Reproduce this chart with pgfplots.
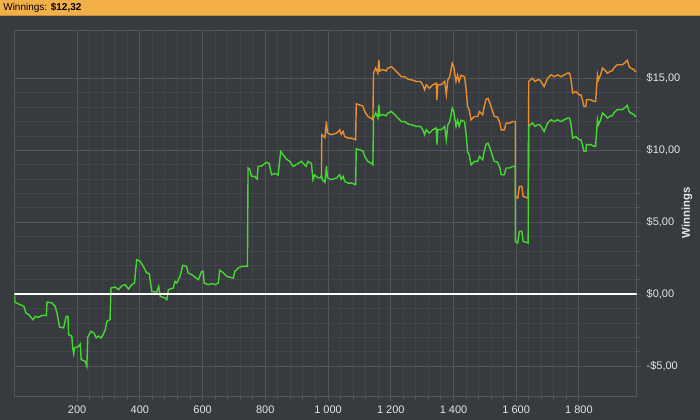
\documentclass[border=0pt]{standalone}
\usepackage{pgfplots}
\pgfplotsset{compat=1.18}
\usepackage{fontspec}
\setmainfont{Liberation Sans}
\definecolor{bgcol}{RGB}{55,58,62}
\definecolor{minorgrid}{RGB}{66,69,73}
\definecolor{majorgrid}{RGB}{82,85,89}
\definecolor{labcol}{RGB}{228,228,228}
\definecolor{barcol}{RGB}{244,176,72}
\definecolor{barline}{RGB}{196,140,60}
\definecolor{greenline}{RGB}{70,216,50}
\definecolor{orangeline}{RGB}{232,142,46}
\begin{document}
\begin{tikzpicture}
\fill[bgcol] (0,0) rectangle (525pt,315pt);
\fill[barcol] (0,303.5pt) rectangle (525pt,315pt);
\draw[barline,line width=0.6pt] (0,303.5pt) -- (525pt,303.5pt);
\node[anchor=west,inner sep=0pt,font=\fontsize{7.5}{8}\selectfont] at (2pt,309.2pt) {Winnings: \textbf{\$12,32}};
\begin{axis}[
  at={(10.5pt,17.25pt)}, anchor=south west,
  scale only axis, width=467.25pt, height=274.5pt,
  xmin=0, xmax=1984, ymin=-7.1, ymax=18.3,
  xtick={200,400,600,800,1000,1200,1400,1600,1800},
  xticklabels={200,400,600,800,1 000,1 200,1 400,1 600,1 800},
  ytick={-5,0,5,10,15},
  yticklabels={{-\$5,00},{\$0,00},{\$5,00},{\$10,00},{\$15,00}},
  minor x tick num=4, minor y tick num=4,
  xtick pos=bottom, ytick pos=right, yticklabel pos=right,
  tick align=outside, major tick length=3pt, minor tick length=2.5pt,
  grid=both,
  major grid style={color=majorgrid, line width=0.75pt},
  minor grid style={color=minorgrid, line width=0.75pt},
  every tick/.style={color=majorgrid, line width=0.75pt},
  axis line style={color=majorgrid, line width=0.8pt},
  /pgf/number format/assume math mode=true,
  tick label style={font=\fontsize{8.25}{9}\selectfont, color=labcol},
  xticklabel style={yshift=-0.5pt},
  yticklabel style={xshift=1pt},
  axis background/.style={fill=bgcol},
]
\addplot[orangeline, line width=1.05pt] coordinates {
(979,8.3) (980,11.09) (990,10.9) (995,12.02) (998,11.22) (1010,11.09) (1027,11.2) (1037,11.43) (1042,11.12) (1048,11.32) (1053,10.97) (1064,10.85) (1075,10.85) (1088,10.74)
(1090,13.24) (1106,13.12) (1111,13.09) (1117,12.7) (1127,12.36) (1138,12.22) (1143,12.12)
(1145,15.37) (1152,15.72) (1159,15.37) (1162,16.29) (1165,15.52) (1175,15.62) (1185,15.52) (1191,15.72) (1202,15.82) (1212,15.62) (1223,15.37) (1234,15.12) (1245,15.12) (1255,14.95) (1270,14.88) (1281,14.79) (1295,14.79) (1302,14.56) (1308,14.21) (1313,14.56) (1323,14.32) (1334,14.56) (1345,14.67) (1347,13.52) (1350,14.56) (1361,14.56) (1372,14.79) (1377,13.86) (1382,14.9) (1388,15.12) (1396,16.06) (1401,15.82) (1408,14.79) (1413,15.22) (1418,14.79) (1424,15.22) (1435,15.12) (1440,14.32) (1445,13.05) (1450,12.82) (1456,12.12) (1467,12.36) (1477,12.36) (1483,12.7) (1493,12.47) (1498,13.05) (1504,13.56) (1510,13.62) (1520,13.05) (1530,12.36) (1540,12.32) (1548,11.9) (1552,11.43) (1562,11.43) (1568,11.9) (1579,11.9) (1589,12.01) (1597,12.01)
(1597,6.8) (1605,6.69) (1610,7.5) (1618,7.5) (1622,6.8) (1638,6.69)
(1640,14.79) (1645,14.9) (1652,15.02) (1660,14.79) (1668,14.9) (1674,14.9) (1679,14.79) (1689,14.44) (1700,15.02) (1711,15.25) (1721,15.12) (1732,15.25) (1743,15.12) (1753,15.25) (1764,15.37) (1770,15.37) (1774,15.02) (1780,13.98) (1790,14.09) (1801,13.86) (1806,13.86) (1811,13.52) (1816,13.05) (1822,13.05) (1824,13.52) (1838,13.52) (1848,13.4) (1853,13.4)
(1859,15.25) (1862,14.9) (1869,15.25) (1875,15.72) (1885,15.52) (1891,15.37) (1901,15.52) (1906,15.52) (1911,15.72) (1922,15.95) (1938,15.95) (1948,16.12) (1954,16.25) (1960,15.82) (1965,15.72) (1975,15.62) (1981,15.44)
};
\addplot[greenline, line width=1.05pt] coordinates {
(0,0) (2,-0.55) (14,-0.67) (30,-0.83) (37,-1.3) (46,-1.41) (59,-1.76) (67,-1.53) (75,-1.6) (85,-1.5) (95,-1.45) (102,-1.48) (104,-0.53) (120,-0.6) (130,-0.83) (136,-1.3) (144,-2.27) (157,-2.33) (165,-1.53) (171,-1.53) (173,-2.8) (183,-2.9) (186,-3.72) (189,-4.12) (192,-3.72) (205,-3.61) (210,-3.45) (213,-4.53) (226,-4.65) (231,-5.0) (234,-2.96) (244,-2.57) (254,-2.7) (261,-3.03) (268,-2.9) (276,-3.03) (283,-2.8) (290,-2.45) (295,-1.87) (305,-1.76)
(308,0.44) (321,0.51) (332,0.33) (343,0.6) (353,0.67) (364,0.37) (374,0.67) (383,0.79) (390,2.41) (401,2.3) (411,1.94) (422,1.49) (430,1.45) (438,0.21) (454,0.15) (460,0.56) (465,-0.14) (480,-0.25) (486,-0.37) (491,0.33) (507,0.44) (512,0.9) (518,0.79) (528,1.25) (537,2.02) (549,1.94) (554,1.48) (563,1.4) (573,1.25) (587,1.02) (597,1.6) (602,1.6) (605,0.79) (618,0.67) (630,0.75) (640,0.67) (650,0.79) (655,1.67) (666,1.5) (677,1.25) (698,1.13) (703,1.6) (714,1.83) (724,1.94) (743,1.94)
(745,8.78) (750,8.7) (756,8.2) (766,8.2) (774,8.01) (777,8.9) (786,8.9) (793,9.0) (804,9.17) (812,9.1) (820,8.31) (830,8.4) (841,8.3) (849,9.93) (857,9.7) (867,9.4) (878,9.24) (889,8.89) (905,9.1) (915,9.24) (930,8.89) (936,9.24) (947,9.1) (952,7.97) (957,8.3) (968,8.1) (976,8.1) (979,8.3) (982,7.97) (990,7.78) (995,8.9) (998,8.1) (1010,7.97) (1027,8.08) (1037,8.31) (1042,8.0) (1048,8.2) (1053,7.85) (1064,7.73) (1075,7.73) (1088,7.62)
(1090,10.12) (1106,10.0) (1111,9.97) (1117,9.58) (1127,9.24) (1138,9.1) (1143,9.0)
(1145,12.25) (1152,12.6) (1159,12.25) (1162,13.17) (1165,12.4) (1175,12.5) (1185,12.4) (1191,12.6) (1202,12.7) (1212,12.5) (1223,12.25) (1234,12.0) (1245,12.0) (1255,11.83) (1270,11.76) (1281,11.67) (1295,11.67) (1302,11.44) (1308,11.09) (1313,11.44) (1323,11.2) (1334,11.44) (1345,11.55) (1347,10.4) (1350,11.44) (1361,11.44) (1372,11.67) (1377,10.74) (1382,11.78) (1388,12.0) (1396,12.94) (1401,12.7) (1408,11.67) (1413,12.1) (1418,11.67) (1424,12.1) (1435,12.0) (1440,11.2) (1445,9.93) (1450,9.7) (1456,9.0) (1467,9.24) (1477,9.24) (1483,9.58) (1493,9.35) (1498,9.93) (1504,10.44) (1510,10.5) (1520,9.93) (1530,9.24) (1540,9.2) (1548,8.78) (1552,8.31) (1562,8.31) (1568,8.78) (1579,8.78) (1589,8.89) (1597,8.89)
(1597,3.68) (1605,3.57) (1610,4.38) (1618,4.38) (1622,3.68) (1638,3.57)
(1640,11.67) (1645,11.78) (1652,11.9) (1660,11.67) (1668,11.78) (1674,11.78) (1679,11.67) (1689,11.32) (1700,11.9) (1711,12.13) (1721,12.0) (1732,12.13) (1743,12.0) (1753,12.13) (1764,12.25) (1770,12.25) (1774,11.9) (1780,10.86) (1790,10.97) (1801,10.74) (1806,10.74) (1811,10.4) (1816,9.93) (1822,9.93) (1824,10.4) (1838,10.4) (1848,10.28) (1853,10.28)
(1859,12.13) (1862,11.78) (1869,12.13) (1875,12.6) (1885,12.4) (1891,12.25) (1901,12.4) (1906,12.4) (1911,12.6) (1922,12.83) (1938,12.83) (1948,13.0) (1954,13.13) (1960,12.7) (1965,12.6) (1975,12.5) (1981,12.32)
};
\addplot[white, line width=1.5pt] coordinates {(0,0) (1984,0)};
\end{axis}
\node[rotate=90, font=\fontsize{8.5}{9}\selectfont\bfseries, color=labcol] at (515.5pt,155pt) {Winnings};
\end{tikzpicture}
\end{document}
